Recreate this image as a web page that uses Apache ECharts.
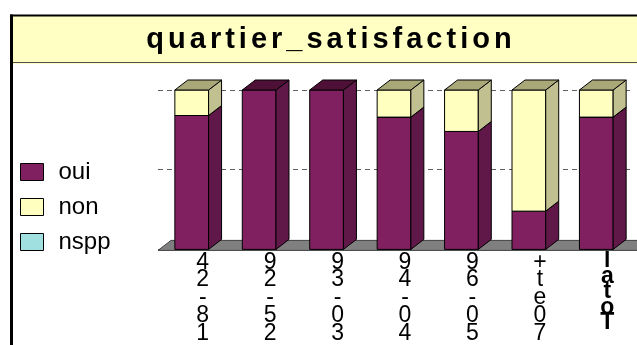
<!DOCTYPE html>
<html>
<head>
<meta charset="utf-8">
<script src="https://cdn.jsdelivr.net/npm/echarts@6/dist/echarts.min.js"></script>
<style>
html,body{margin:0;padding:0;background:#fff;}
#c{width:637px;height:345px;}
</style>
</head>
<body>
<div id="c"></div>
<script>
const titleText = 'quartier_satisfaction';
const categories = ['18-24', '25-29', '30-39', '40-49', '50-69', '70et+', 'Total'];
const seriesNames = ['oui', 'non', 'nspp'];
const oui  = [84, 100, 100, 83, 74, 24, 83];
const non  = [16, 0, 0, 17, 26, 76, 17];
const nspp = [0, 0, 0, 0, 0, 0, 0];
const yTicks = [0, 50, 100];

const FONT = '"Liberation Sans", Arial, sans-serif';
const palette = {
  oui:  {front: '#802060', side: '#5f1848', top: '#4f1038'},
  non:  {front: '#ffffc0', side: '#c0c090', top: '#a8a878'},
  nspp: {front: '#a0e0e0', side: '#70a8a8', top: '#5a9090'}
};
const DX = 13, DY = 10, BAR_RATIO = 0.5;

const valuesByName = {oui: oui, non: non, nspp: nspp};
function segData(name) {
  const out = [];
  for (let i = 0; i < categories.length; i++) {
    let start = 0;
    for (const n of seriesNames) {
      if (n === name) break;
      start += valuesByName[n][i];
    }
    out.push([i, start, start + valuesByName[name][i]]);
  }
  return out;
}

function makeRender(name) {
  const col = palette[name];
  return function (params, api) {
    const i = api.value(0), s = api.value(1), e = api.value(2);
    if (e - s <= 0) return null;
    const pb = api.coord([i, s]), pt = api.coord([i, e]);
    const w = api.size([1, 0])[0] * BAR_RATIO;
    const x0 = pb[0] - w / 2, x1 = pb[0] + w / 2;
    const yb = pb[1], yt = pt[1];
    const ls = {stroke: '#000', lineWidth: 1};
    return {
      type: 'group',
      children: [
        {type: 'polygon', shape: {points: [[x0, yb], [x1, yb], [x1, yt], [x0, yt]]},
          style: Object.assign({fill: col.front}, ls)},
        {type: 'polygon', shape: {points: [[x1, yb], [x1 + DX, yb - DY], [x1 + DX, yt - DY], [x1, yt]]},
          style: Object.assign({fill: col.side}, ls)},
        {type: 'polygon', shape: {points: [[x0, yt], [x1, yt], [x1 + DX, yt - DY], [x0 + DX, yt - DY]]},
          style: Object.assign({fill: col.top}, ls)}
      ]
    };
  };
}

function floorRender(params, api) {
  const cs = params.coordSys;
  const y0 = api.coord([0, 0])[1] + 1;
  const xa = cs.x, xb = cs.x + cs.width + 20;
  return {
    type: 'polygon',
    shape: {points: [[xa, y0], [xa + DX, y0 - DY], [xb + DX, y0 - DY], [xb, y0]]},
    style: {fill: '#808080', stroke: '#404040', lineWidth: 1}
  };
}

const chart = echarts.init(document.getElementById('c'));
const series = [{
  name: 'floor', type: 'custom', renderItem: floorRender, data: [[0]], silent: true, z: 1
}];
seriesNames.forEach(function (n) {
  series.push({
    name: n, type: 'custom', renderItem: makeRender(n), data: segData(n),
    itemStyle: {color: palette[n].front, borderColor: '#000', borderWidth: 1},
    encode: {x: 0, y: [1, 2]}, z: 2
  });
});

const titleRich = titleText.split('').map(function (c) { return '{s|' + c + '}'; }).join('');

chart.setOption({
  animation: false,
  backgroundColor: '#fff',
  graphic: [
    {type: 'rect', shape: {x: 10, y: 15, width: 640, height: 49}, style: {fill: '#ffffc4'}, z: 0},
    {type: 'line', shape: {x1: 10, y1: 62.5, x2: 640, y2: 62.5}, style: {stroke: '#505050', lineWidth: 1}},
    {type: 'line', shape: {x1: 10, y1: 15.5, x2: 640, y2: 15.5}, style: {stroke: '#000', lineWidth: 2}},
    {type: 'line', shape: {x1: 11.5, y1: 14.5, x2: 11.5, y2: 345}, style: {stroke: '#000', lineWidth: 3}},
    {type: 'text', x: 329, y: 40, style: {text: titleRich, align: 'center', verticalAlign: 'middle',
      rich: {s: {fontFamily: FONT, fontSize: 29, fontWeight: 'bold', fill: '#000', padding: [0, 2]}}}}
  ],
  legend: {
    orient: 'vertical', left: 20, top: 160, padding: 0, itemWidth: 23, itemHeight: 17, itemGap: 11,
    icon: 'rect',
    textStyle: {fontFamily: FONT, fontSize: 24, color: '#000', lineHeight: 24, padding: [0, 0, 0, 10]},
    data: seriesNames.map(function (n) {
      return {name: n, itemStyle: {color: palette[n].front, borderColor: '#000', borderWidth: 1}};
    })
  },
  grid: {left: 158, right: 7, top: 90, bottom: 93, containLabel: false},
  xAxis: {
    type: 'category', data: categories, boundaryGap: true,
    axisLine: {show: false}, axisTick: {show: false},
    axisLabel: {
      interval: 0, margin: 4, padding: [0, 0, 0, 22],
      fontFamily: FONT, fontSize: 23, lineHeight: 17.8, color: '#000',
      formatter: function (v) {
        const chars = v.split('').reverse();
        if (v === 'Total') return chars.map(function (c) { return '{b|' + c + '}'; }).join('\n');
        return chars.join('\n');
      },
      rich: {b: {fontFamily: FONT, fontSize: 23, lineHeight: 15.5, fontWeight: 'bold', color: '#000'}}
    }
  },
  yAxis: {
    type: 'value', min: yTicks[0], max: yTicks[yTicks.length - 1], interval: 50,
    axisLine: {show: false}, axisTick: {show: false}, axisLabel: {show: false},
    splitLine: {show: true, lineStyle: {color: '#606060', type: [5, 4], width: 1}}
  },
  series: series
});
</script>
</body>
</html>
